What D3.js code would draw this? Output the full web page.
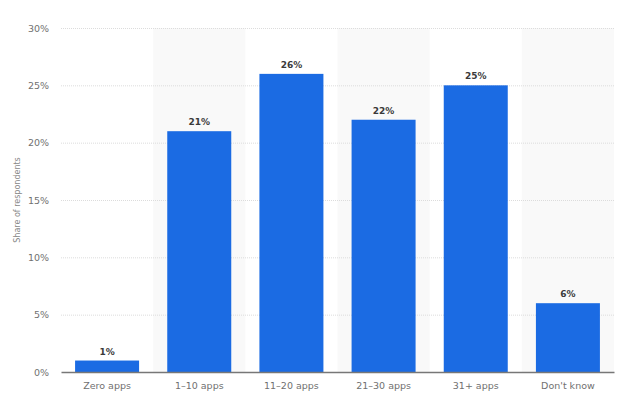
<!DOCTYPE html>
<html><head><meta charset="utf-8">
<script src="https://cdn.jsdelivr.net/npm/d3@7"></script>
<style>body{margin:0;background:#fff}svg{display:block}text{font-family:"DejaVu Sans",Verdana,sans-serif}</style>
</head><body><svg id="c" width="624" height="406"></svg>
<script>
const categories = ["Zero apps","1\u201310 apps","11\u201320 apps","21\u201330 apps","31+ apps","Don't know"];
const values = [1,21,26,22,25,6];
const yTicks = [0,5,10,15,20,25,30];
const yTitle = "Share of respondents";

const svg = d3.select("#c");
const m = {l:61, r:10, t:28, b:34};
const W = 624, H = 406;
const x = d3.scaleBand().domain(categories).range([m.l, W-m.r]).paddingInner(0).paddingOuter(0);
const y = d3.scaleLinear().domain([0,30]).range([H-m.b, m.t]);

// alternating band shading
svg.append("g").selectAll("rect").data(categories.filter((d,i)=>i%2===1)).join("rect")
  .attr("x", d=>x(d)).attr("width", x.bandwidth())
  .attr("y", y(30)).attr("height", y(0)-y(30))
  .attr("fill","#f9f9f9");

// gridlines
svg.append("g").selectAll("line").data(yTicks.filter(t=>t>0)).join("line")
  .attr("x1", m.l).attr("x2", W-m.r)
  .attr("y1", d=>y(d)+0.5).attr("y2", d=>y(d)+0.5)
  .attr("stroke","#dcdcdc").attr("stroke-dasharray","1,1");

// y axis labels
const yAxis = d3.axisLeft(y).tickValues(yTicks).tickFormat(d=>d+"%").tickSize(0).tickPadding(12);
const ga = svg.append("g").attr("transform",`translate(${m.l},0)`).call(yAxis);
ga.select(".domain").remove();
ga.selectAll("text").attr("fill","#707070").style("font-size","9.5px").attr("font-family","DejaVu Sans");

// bars
const barW = 64;
svg.append("g").selectAll("rect").data(values).join("rect")
  .attr("x",(d,i)=>x(categories[i])+(x.bandwidth()-barW)/2)
  .attr("width", barW)
  .attr("y", d=>y(d)).attr("height", d=>y(0)-y(d))
  .attr("fill","#1b6be3");

// value labels
svg.append("g").selectAll("text").data(values).join("text")
  .attr("x",(d,i)=>x(categories[i])+x.bandwidth()/2)
  .attr("y", d=>y(d)-6)
  .attr("text-anchor","middle").attr("fill","#3a3a3a")
  .style("font-size","9px").style("font-weight","bold")
  .text(d=>d+"%");

// x axis
const xAxis = d3.axisBottom(x).tickSize(0).tickPadding(10);
const gx = svg.append("g").attr("transform",`translate(0,${y(0)})`).call(xAxis);
gx.select(".domain").attr("stroke","#777").attr("stroke-width",1.5);
gx.selectAll("text").attr("fill","#707070").style("font-size","9.5px").attr("font-family","DejaVu Sans");

// y title
svg.append("text").attr("transform",`translate(20,${(y(0)+y(30))/2}) rotate(-90)`)
  .attr("text-anchor","middle").attr("fill","#888").style("font-size","8px").text(yTitle);
</script></body></html>
